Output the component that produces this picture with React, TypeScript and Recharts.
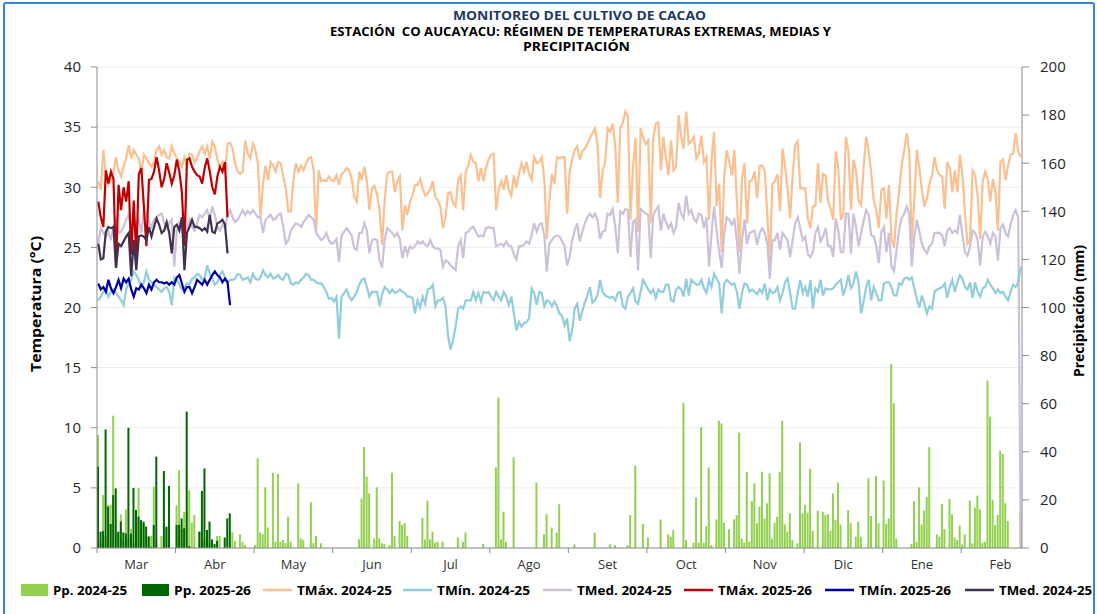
import React from 'react';
import { ComposedChart, Line, Bar, XAxis, YAxis, CartesianGrid } from 'recharts';

const monthLabels = ['Mar', 'Abr', 'May', 'Jun', 'Jul', 'Ago', 'Set', 'Oct', 'Nov', 'Dic', 'Ene', 'Feb'];
const monthTicks = [0, 31, 62, 93, 124, 155, 186, 217, 248, 279, 310, 341];
const tempTicks = [0, 5, 10, 15, 20, 25, 30, 35, 40];
const ppTicks = [0, 20, 40, 60, 80, 100, 120, 140, 160, 180, 200];

const tmax2425 = [
  30.5, 29.8, 33.1, 30.9, 30.2, 30.6, 31.3, 32.5, 31.4, 30.9,
  31.7, 32.4, 33.5, 32.4, 33.1, 32.7, 32.4, 31.2, 32.7, 32.4,
  32, 31.7, 32.1, 33.1, 33.4, 32.7, 33.1, 32.5, 32.4, 33.4,
  32.8, 32.4, 32.1, 31.7, 32.5, 31.8, 32.8, 32.7, 32.1, 32.4,
  33, 33.4, 32.8, 33.4, 32.4, 33.8, 33.4, 32.3, 31.7, 32.1,
  31.1, 33.6, 33.7, 33.2, 32, 31.3, 31.1, 31.3, 33.9, 32.8,
  32.4, 33.6, 33.1, 32, 27.5, 30.3, 31.8, 30.6, 32.1, 31.8,
  31.3, 32.1, 32, 30.9, 29.9, 28, 28, 30.6, 32, 31.3,
  31.8, 31.4, 32, 32.4, 32.5, 31.4, 26.4, 31.4, 30.5, 30.6,
  30.5, 30.9, 30.6, 30.5, 31, 30.2, 31.1, 31.3, 31.6, 31.4,
  30.7, 29.2, 28.8, 31.3, 30.6, 31.7, 30.5, 28.1, 29.9, 30.1,
  29.4, 28.1, 25.2, 28.9, 31.1, 31.3, 31.3, 29.6, 30.5, 30.9,
  26.4, 28.5, 27.7, 28.8, 29.3, 30.2, 30.2, 30.7, 29.9, 29.3,
  29.5, 29.8, 30.5, 29.2, 28.9, 28.4, 26.6, 27.5, 29.5, 29.6,
  28.7, 28.4, 30.6, 31, 28.1, 31.3, 31.8, 32.7, 32.1, 32,
  30.5, 31.6, 30.5, 31.6, 32.3, 32.7, 32.8, 28.1, 29.8, 30.5,
  29.8, 31, 29.8, 29.3, 31, 30, 31.1, 32, 31.3, 32.1,
  31.1, 30.6, 32.5, 32, 32.1, 32.5, 30.7, 25.7, 28.9, 31.1,
  30.3, 32.5, 32.4, 32.5, 32.5, 27.8, 31.3, 32.3, 33.1, 33.4,
  32.3, 33, 33.2, 33.6, 34.1, 34.5, 34.9, 33.6, 29.1, 31.3,
  32.1, 34.9, 34.6, 35.3, 33.4, 28.7, 34.9, 35.4, 36.3, 35.9,
  27.3, 31.7, 34.1, 26.3, 34.9, 34.1, 33.6, 33.9, 27, 34.1,
  35.3, 35.4, 31.4, 34.2, 32.4, 31, 33.9, 31.4, 31.7, 36,
  34.2, 33.2, 36.3, 33.6, 33.8, 34.2, 32.4, 32.8, 34.3, 32.1,
  32.5, 27.3, 32.3, 34.6, 28.4, 30.3, 24.6, 30.9, 33.1, 32.1,
  31, 33.1, 28.9, 24.6, 30.7, 32, 27, 30.5, 30.6, 31.3,
  29.1, 31.8, 31.8, 31.3, 27.7, 23.7, 30.3, 30.5, 31.1, 28,
  33.2, 31.7, 29.8, 27.4, 31, 33.5, 33.8, 29.9, 29.9, 29.9,
  27.4, 26.6, 28.4, 28.5, 32, 28.7, 31.1, 31, 28.8, 28.2,
  27.3, 33, 31.6, 27.3, 27.8, 34.2, 33, 28.1, 32.3, 31.4,
  28.9, 28.5, 31.7, 34.2, 33, 31.2, 28.9, 28.1, 26.6, 29.8,
  29.9, 27.4, 30.2, 25.7, 25, 27.8, 29.6, 31.8, 33, 34.5,
  33, 25.3, 28.9, 33.1, 31.6, 29.8, 28.4, 29.1, 30.3, 31,
  32.5, 31.4, 31, 30.9, 28.2, 32.1, 31.6, 29.6, 31.4, 29.6,
  32.7, 31, 27.8, 25.3, 25.6, 31.4, 31, 29.2, 25.7, 30.5,
  31.3, 30.6, 28.8, 30.7, 29.6, 26.4, 32.1, 32.3, 30.6, 31.8,
  32.7, 32.8, 34.5, 33, 32.5,
];

const tmin2425 = [
  20.6, 20.9, 21.3, 21.6, 20.9, 21.3, 21.5, 21.2, 20.9, 20.6,
  20.2, 21.5, 22.1, 22.3, 23, 22.7, 22.3, 21.7, 22.1, 23,
  22.3, 22.1, 21.9, 21.7, 21.5, 21.3, 21.6, 21.7, 21.3, 20.2,
  22.5, 22.3, 21.9, 21.5, 21.7, 22, 21.9, 22.4, 22.5, 22.8,
  22.7, 22.3, 22.5, 23.5, 22.8, 22.4, 21.9, 22.1, 22.7, 23,
  22.5, 22.1, 22.3, 22.3, 22.4, 22.8, 22.7, 22.3, 22.4, 22.5,
  22.1, 22.8, 22.4, 22.3, 22.5, 23.1, 22.7, 22.5, 22.8, 22.4,
  22.5, 22.7, 22.4, 22.3, 22.8, 22.7, 22, 21.9, 22.1, 22,
  22.3, 22.5, 22.8, 22.7, 22.3, 22.3, 22.1, 22, 22, 21.7,
  21.3, 20.7, 20.8, 20.5, 20.9, 17.4, 20.9, 21.2, 21.5, 20.9,
  20.6, 20.9, 21.3, 21.9, 22.3, 22.4, 21.7, 20.9, 21.3, 21.3,
  21.3, 20.1, 21.1, 21.7, 21.5, 21.2, 21.5, 21.2, 21.3, 21.5,
  21.3, 21.2, 20.9, 20.9, 20.8, 19.5, 20.6, 20, 20.9, 20.3,
  21.5, 21.6, 21.9, 20.1, 20.6, 20.6, 20.8, 20.1, 17.7, 16.5,
  17.3, 18.4, 19.9, 20.1, 19.9, 20.6, 20.6, 20.6, 21.3, 20.6,
  21.2, 20.5, 21.3, 21.2, 21.3, 20.9, 20.6, 21.3, 20.9, 20.6,
  21.3, 20.9, 20.2, 20.9, 19.5, 18.1, 18.8, 18.4, 18.7, 18.8,
  19.1, 21.6, 21.2, 20.2, 21.3, 21.2, 20.1, 20.6, 20.5, 20.1,
  20.5, 20.1, 19.5, 19.3, 18.5, 19.1, 17.2, 18.1, 19.9, 20.3,
  18.9, 19.7, 20.4, 21, 21.7, 20.4, 20.6, 21, 22.3, 21.3,
  21, 20.9, 20.8, 20.9, 20.6, 21.2, 21.3, 20.1, 19.9, 20.9,
  21.2, 21.6, 20.5, 20.3, 21.3, 22.3, 21.9, 21.5, 21.2, 21.5,
  20.8, 21.5, 21.3, 21.3, 21.9, 21.9, 20.6, 20.5, 21.5, 21.7,
  21.5, 20.9, 22.4, 21, 22.3, 22.1, 21.9, 21.9, 22.3, 21.6,
  21.2, 22.3, 21.7, 22.8, 22.4, 22, 19.5, 22, 22.3, 22.1,
  21.9, 22, 21.3, 19.9, 21.2, 22, 21.9, 21.3, 21.5, 21.3,
  21.1, 21.5, 21.2, 22, 20.6, 21.5, 21.2, 21.3, 21.7, 20.6,
  21.2, 22.1, 22.4, 21.2, 19.9, 19.9, 21.2, 22.3, 21.2, 21.7,
  20.9, 22.3, 19.9, 21.6, 21.3, 22.3, 21, 21.6, 21.5, 21.5,
  21.6, 21.9, 22.1, 22.3, 21, 21.7, 22.7, 21.6, 22, 23,
  22.1, 19.5, 20.5, 21.7, 22.3, 20.6, 21.7, 21.2, 20.6, 20.6,
  22, 22.1, 22.1, 21.7, 21, 21, 22, 21.9, 22.4, 22.5,
  22.3, 22.5, 21.6, 20.7, 20, 21, 20.3, 19.5, 20.1, 19.9,
  21.3, 21.5, 21.6, 21.7, 22, 20.8, 21.7, 22.3, 21.3, 22.1,
  22.7, 22.4, 21.7, 21.5, 22.1, 20.8, 22.1, 21.3, 20.9, 21.6,
  21.7, 22.3, 21.9, 21.6, 21.2, 21.5, 21.2, 21.3, 20.9, 20.6,
  21.3, 21.9, 21.7, 22.1, 23.4,
];

const tmed2425 = [
  25.3, 26.6, 26.2, 25.9, 26.3, 25.6, 26.7, 27.3, 26.2, 26.3,
  26.7, 27.3, 27.7, 26.7, 27.3, 26.7, 27.3, 26.2, 28.1, 27.8,
  27.1, 26.7, 27.3, 27.5, 27.7, 27.8, 27, 26.6, 27, 27.3,
  23.4, 26.4, 27, 26.4, 25.6, 26.6, 27.3, 26.7, 26.4, 27,
  27.7, 27.5, 27.8, 28.1, 27.4, 28.4, 27.7, 26.7, 26.4, 26.9,
  26.6, 27.7, 28.1, 27.5, 27.1, 27.3, 27.7, 28.1, 27.7, 28,
  27.8, 28.1, 27.8, 27.5, 27.5, 26.2, 27.3, 27.5, 27.7, 27.3,
  27.4, 27.7, 27.8, 26.7, 25.3, 25.6, 26.4, 26.7, 27, 26.9,
  26.7, 27.1, 27.4, 27.7, 27.5, 27.3, 26.2, 25.9, 25.6, 25.8,
  26.2, 25.6, 25.3, 25.4, 25.7, 23.8, 26, 26.3, 26.6, 26.3,
  26, 24.9, 24.8, 26.2, 26.2, 27, 26.4, 24.5, 25.6, 25.7,
  25.6, 23.9, 23.3, 25.6, 26.6, 26.4, 26.2, 25.9, 26.2, 25.7,
  24.1, 25.1, 24.4, 25.1, 24.9, 25.1, 25.5, 25.3, 25.5, 25.2,
  25.1, 25.6, 25.1, 24.9, 24.9, 24.8, 23.4, 23.9, 23.8, 23.5,
  23.3, 23.1, 25.1, 25.6, 24.1, 26.2, 26.3, 26.6, 26.7, 26.3,
  25.9, 26, 25.9, 26.6, 26.7, 26.6, 26.6, 25.1, 25.2, 25.3,
  25.1, 25.5, 25.1, 25.1, 24.4, 24, 25.1, 25.1, 25.2, 25.5,
  25.3, 26, 27, 26.3, 26.9, 27, 26, 23, 25.3, 25.6,
  25.9, 26, 25.9, 25.5, 25.1, 23.5, 24.2, 25.6, 26.4, 27,
  25.5, 26.3, 27, 27.5, 27.8, 27.5, 27.8, 27.3, 25.7, 26.3,
  26.4, 27.8, 27.7, 28.2, 26.7, 24.5, 28, 27.8, 28.2, 28.1,
  24.2, 27.1, 27.3, 23.1, 28.2, 28, 27.8, 27.7, 24.1, 27.7,
  28.1, 28.4, 26.4, 27.8, 27.1, 26.6, 27, 26.2, 26.7, 28.7,
  27.8, 27.4, 29.3, 27.8, 28.1, 27.4, 27.1, 27.8, 27.7, 26.6,
  27.5, 23.4, 26.2, 28.4, 26.4, 24.6, 23.3, 26.2, 27.5, 27.3,
  26.9, 27.3, 25.6, 22.8, 25.6, 27.3, 25.3, 26.2, 26.3, 26.4,
  25.2, 26.2, 26.6, 26.2, 25.3, 22.4, 25.6, 25.6, 26.2, 24.8,
  26.2, 25.9, 25.6, 24.2, 25.6, 27, 27.5, 26.6, 25.6, 25.9,
  24.4, 24.2, 24.6, 26.2, 26.7, 25.5, 25.9, 26.6, 25.1, 25.1,
  24.2, 27.4, 26.4, 24.6, 24.6, 27.8, 27.8, 24.5, 27.8, 26.7,
  25.1, 26.2, 27.2, 28.1, 27.7, 26, 25.9, 25.1, 23.7, 26.3,
  26.7, 24.6, 26.2, 23.4, 23, 24.8, 26.4, 27.4, 27.8, 28.4,
  27.8, 23.4, 25.9, 27.3, 26.3, 25.3, 24.8, 24.5, 25.1, 25.3,
  26.2, 26.2, 26.2, 26, 25.1, 26.4, 26.6, 26.2, 26.4, 26.2,
  27.7, 26, 24.6, 24.3, 25.1, 26.4, 26.2, 25.6, 23.5, 25.9,
  26.3, 25.9, 25.3, 26.2, 25.9, 23.9, 26.6, 26.9, 26.2, 25.9,
  26.9, 27.7, 28.1, 27.5, 0,
];

const pp2425 = [
  47, 3, 22, 5, 18, 18, 55, 6, 6, 14,
  3, 16, 4, 8, 2, 6, 25, 10, 10, 5,
  5, 5, 25.5, 3, 0, 5, 3, 8, 8, 0,
  0, 17.7, 32.4, 8, 15, 15, 24, 10.5, 13.7, 0,
  6.8, 3, 3, 2, 2, 0, 0, 5, 5, 0,
  0, 0, 0, 6.5, 3, 0, 5.7, 2.6, 1.2, 0,
  0, 0, 1.2, 37.3, 6.5, 5.8, 25.2, 8.5, 0, 31.3,
  2.6, 30.8, 2.6, 3.3, 2, 13, 2.6, 0, 0, 26.9,
  4, 3.3, 0, 0, 19, 2, 5, 0, 2, 0,
  0, 0, 0, 0, 0, 0, 0, 0, 0, 0,
  0, 0, 0, 3.6, 20.6, 42, 29.7, 22.7, 0, 4,
  25.2, 4, 2, 1.7, 0, 1.2, 31.3, 5, 0, 11.2,
  9.6, 10.3, 5, 0, 0, 0, 0, 0, 12.6, 3.6,
  19.7, 3.6, 6.8, 2.2, 2.6, 0, 2.6, 0, 0, 0,
  0, 0, 4.4, 0, 2.6, 6.5, 0, 0, 0, 0,
  0, 0, 1.7, 0, 0, 0, 0, 33.5, 62.5, 3.6,
  15.1, 2.6, 0, 0, 37.7, 0, 0, 0, 0, 0,
  0, 0, 0, 27.2, 0, 0, 5.7, 14.1, 0, 8.5,
  0, 6.4, 18.2, 0, 0, 0, 0, 0, 1.5, 0,
  0, 0, 0, 0, 0, 0, 6.4, 0, 0, 0,
  0, 0, 1.5, 0, 1.2, 0, 0, 0, 0, 1.2,
  13.7, 0, 34.2, 0, 0, 10, 0, 4.3, 0, 0,
  0, 0, 11.9, 0, 0, 5.7, 4.7, 7.5, 0, 0,
  0, 60.4, 3.3, 0, 0, 2.2, 21, 2.2, 50.2, 2.2,
  9.1, 33.5, 1.2, 0, 11.9, 52.9, 51.8, 10.5, 0, 7.8,
  0, 11.9, 13.7, 48, 4, 2.2, 31.6, 2.6, 19.5, 26.9,
  10.3, 17.2, 31.7, 12.3, 18.6, 31, 4, 10.5, 13, 31.7,
  52.9, 9.8, 6.8, 14.4, 3.3, 0, 1.9, 43.9, 14.4, 17.9,
  14.7, 33, 7.2, 0, 15.5, 0, 15.1, 13.7, 14, 7.2,
  22.7, 11.6, 27.2, 9.8, 0, 0, 15.8, 10.3, 0, 4.7,
  11, 4.7, 0, 0, 29, 13.3, 0, 30, 10.3, 0,
  28, 10, 12.3, 76.5, 60.2, 4, 0, 0, 0, 0,
  0, 1.7, 19.5, 2.6, 25.2, 9.8, 15.5, 21.3, 41.9, 0,
  0, 5.7, 4.7, 18.3, 7.8, 0, 20.4, 14, 4.3, 3.3,
  9.3, 1.5, 5.7, 0, 19.7, 1.9, 16.8, 21.8, 16.1, 2.2,
  2.6, 69.6, 54.6, 20, 9.6, 13.7, 40.5, 39.1, 18.6, 11.2,
  0, 0, 0, 0, 14.8,
];

const tmax2526 = [
  28.8, 27.5, 26.7, 31.4, 30.3, 31.3, 30.7, 23.4, 30.2, 28.1,
  30, 28.8, 30.5, 24.4, 28.9, 24.2, 31.1, 31.6, 28.4, 25.1,
  30.6, 30.7, 31.3, 32.5, 31.4, 30, 30.7, 32, 31.2, 30.3,
  31, 32.3, 31.3, 29.6, 25.1, 32.3, 32.4, 31.7, 31.3, 31,
  30.9, 30.3, 31.6, 32.4, 31.3, 30, 29.4, 30.9, 31.7, 31.3,
  32.1, 27.5,
];

const tmin2526 = [
  22, 21.5, 21.7, 21.3, 22.3, 21.6, 21.2, 21.7, 22.3, 21.6,
  22.4, 22.1, 22.4, 21.5, 20.9, 21.6, 21.5, 21.9, 21.6, 21.2,
  21.9, 21.5, 22.1, 22.3, 22.1, 22.1, 22, 22.1, 21.9, 22.1,
  21.9, 22.5, 22.7, 22, 21.3, 21.7, 21.7, 21.2, 21.7, 22.3,
  22.1, 21.9, 22.3, 21.9, 22.3, 22.7, 23, 22.7, 22.5, 22.1,
  22.4, 22.1, 20.2,
];

const tmed2526 = [
  25.3, 24, 24.1, 26.3, 26.7, 26.6, 26.7, 23.3, 25.3, 25.1,
  25.5, 25.9, 26.2, 22.6, 25.6, 23.1, 25.9, 26, 25.9, 25.6,
  26.7, 25.9, 26.7, 27.4, 26.9, 26.2, 26.4, 27.1, 26.2, 24.5,
  26.7, 26.9, 26.4, 27.5, 23.1, 26.2, 26.7, 27.3, 26.7, 26.7,
  26.6, 26.4, 26.6, 26.3, 27.7, 26.3, 26.2, 27, 27.1, 27.3,
  26.9, 24.5,
];

const pp2526 = [
  33.8, 6.8, 7, 49.3, 17.2, 10, 22, 24.8, 6.8, 11,
  6.5, 6, 50, 6, 25, 15.8, 13, 11.6, 11, 8.9,
  4.7, 0.5, 9.6, 38, 0, 0, 32, 8.9, 25.8, 0,
  0, 9.6, 9.6, 12.3, 8.2, 56.7, 0.8, 0, 0, 0,
  6.8, 23.7, 33.1, 7.5, 11, 3.6, 1.7, 3, 0, 0,
  4.4, 12.3, 14.4,
];

const data = tmax2425.map((v, i) => ({
  x: i + 0.5,
  tmax2425: v,
  tmin2425: tmin2425[i],
  tmed2425: tmed2425[i],
  pp2425: pp2425[i],
  tmax2526: i < tmax2526.length ? tmax2526[i] : null,
  tmin2526: i < tmin2526.length ? tmin2526[i] : null,
  tmed2526: i < tmed2526.length ? tmed2526[i] : null,
  pp2526: i < pp2526.length ? pp2526[i] : null,
}));

const C = {
  pp2425: '#92D050',
  pp2526: '#006600',
  tmax2425: '#FAC090',
  tmin2425: '#92CDDC',
  tmed2425: '#CCC0DA',
  tmax2526: '#C00000',
  tmin2526: '#0000A0',
  tmed2526: '#403151',
};

const legendItems = [
  { kind: 'rect', color: C.pp2425, label: 'Pp. 2024-25', w: 74, x: 21 },
  { kind: 'rect', color: C.pp2526, label: 'Pp. 2025-26', w: 77, x: 142 },
  { kind: 'line', color: C.tmax2425, label: 'TMáx. 2024-25', w: 95, x: 263 },
  { kind: 'line', color: C.tmin2425, label: 'TMín. 2024-25', w: 93, x: 403 },
  { kind: 'line', color: C.tmed2425, label: 'TMed. 2024-25', w: 95, x: 543 },
  { kind: 'line', color: C.tmax2526, label: 'TMáx. 2025-26', w: 94, x: 684 },
  { kind: 'line', color: C.tmin2526, label: 'TMín. 2025-26', w: 92, x: 825 },
  { kind: 'line', color: C.tmed2526, label: 'TMed. 2024-25', w: 93, x: 965 },
];

const FONT = "'Open Sans', 'DejaVu Sans', sans-serif";

const MonthTick = (props: any) => {
  const { x, y, payload } = props;
  const idx = monthTicks.indexOf(payload.value);
  const half = (31 / 365) * 925 / 2;
  return (
    <text x={x + half} y={y + 14} textAnchor="middle" fontSize={13} fill="#333" fontFamily={FONT}>
      {monthLabels[idx]}
    </text>
  );
};

const lineProps = {
  type: 'linear' as const,
  dot: false,
  activeDot: false,
  isAnimationActive: false,
  xAxisId: 'x1',
  yAxisId: 'left',
};

export default function App() {
  return (
    <div style={{ position: 'absolute', left: 0, top: 0, width: 1097, height: 614, background: '#fff', overflow: 'hidden' }}>
      <div style={{ position: 'absolute', left: 3, top: 2, width: 1088, height: 640, border: '2px solid #3385D6', borderRadius: 3 }} />
      <div style={{ position: 'absolute', left: 0, top: 0 }}>
        <ComposedChart width={1097} height={614} data={data} margin={{ top: 67, right: 0, bottom: 46, left: 0 }}>
          <CartesianGrid xAxisId="x1" yAxisId="left" vertical={false} stroke="#EDEDED" />
          <XAxis
            xAxisId="x1"
            type="number"
            dataKey="x"
            domain={[0, 365]}
            ticks={monthTicks}
            interval={0}
            tick={<MonthTick />}
            tickSize={5}
            height={20}
            stroke="#8C8C8C"
            allowDataOverflow
          />
          <XAxis xAxisId="x2" type="number" dataKey="x" domain={[0, 365]} hide allowDataOverflow />
          <YAxis
            yAxisId="left"
            domain={[0, 40]}
            ticks={tempTicks}
            interval={0}
            width={97}
            tickSize={6}
            tickMargin={10}
            stroke="#8C8C8C"
            tick={{ fill: '#262626', fontSize: 15, fontFamily: FONT }}
          />
          <YAxis
            yAxisId="right"
            orientation="right"
            domain={[0, 200]}
            ticks={ppTicks}
            interval={0}
            width={75}
            tickSize={7}
            tickMargin={11}
            stroke="#8C8C8C"
            tick={{ fill: '#262626', fontSize: 15, fontFamily: FONT }}
          />
          <Bar xAxisId="x1" yAxisId="right" dataKey="pp2425" fill={C.pp2425} barSize={2} isAnimationActive={false} />
          <Bar xAxisId="x2" yAxisId="right" dataKey="pp2526" fill={C.pp2526} barSize={2} isAnimationActive={false} />
          <Line {...lineProps} dataKey="tmax2425" stroke={C.tmax2425} strokeWidth={2.2} />
          <Line {...lineProps} dataKey="tmed2425" stroke={C.tmed2425} strokeWidth={2.2} />
          <Line {...lineProps} dataKey="tmin2425" stroke={C.tmin2425} strokeWidth={2.2} />
          <Line {...lineProps} dataKey="tmax2526" stroke={C.tmax2526} strokeWidth={2.2} />
          <Line {...lineProps} dataKey="tmed2526" stroke={C.tmed2526} strokeWidth={2.2} />
          <Line {...lineProps} dataKey="tmin2526" stroke={C.tmin2526} strokeWidth={2.2} />
        </ComposedChart>
      </div>
      <svg width={1097} height={614} style={{ position: 'absolute', left: 0, top: 0, pointerEvents: 'none' }}>
        <text x={579.5} y={20} textAnchor="middle" fontSize={13} fontWeight="bold" fill="#203864" fontFamily={FONT} textLength={253} lengthAdjust="spacingAndGlyphs">
          MONITOREO DEL CULTIVO DE CACAO
        </text>
        <text x={580.5} y={35.5} textAnchor="middle" fontSize={11.5} fontWeight="bold" fill="#000" fontFamily={FONT} textLength={501} lengthAdjust="spacingAndGlyphs" style={{ whiteSpace: 'pre' }}>
          {'ESTACIÓN\u00A0 CO AUCAYACU: RÉGIMEN DE TEMPERATURAS EXTREMAS, MEDIAS Y'}
        </text>
        <text x={576.5} y={50.5} textAnchor="middle" fontSize={11.5} fontWeight="bold" fill="#000" fontFamily={FONT} textLength={107} lengthAdjust="spacingAndGlyphs">
          PRECIPITACIÓN
        </text>
        <text transform="translate(35,304) rotate(-90)" textAnchor="middle" dominantBaseline="central" fontSize={14} fontWeight="bold" fill="#000" fontFamily={FONT} textLength={136} lengthAdjust="spacingAndGlyphs">
          Temperatura (°C)
        </text>
        <text transform="translate(1078,311) rotate(-90)" textAnchor="middle" dominantBaseline="central" fontSize={14} fontWeight="bold" fill="#000" fontFamily={FONT} textLength={132} lengthAdjust="spacingAndGlyphs">
          Precipitación (mm)
        </text>
        {legendItems.map((it, k) => {
          const x0 = it.x;
          return (
            <g key={k}>
              {it.kind === 'rect' ? (
                <rect x={x0} y={584} width={27} height={12} fill={it.color} />
              ) : (
                <line x1={x0} x2={x0 + 29} y1={590} y2={590} stroke={it.color} strokeWidth={2.5} />
              )}
              <text x={x0 + (it.kind === 'rect' ? 32 : 34)} y={595} fontSize={12.5} fontWeight="bold" fill="#000" fontFamily={FONT} textLength={it.w} lengthAdjust="spacingAndGlyphs">
                {it.label}
              </text>
            </g>
          );
        })}
      </svg>
    </div>
  );
}
